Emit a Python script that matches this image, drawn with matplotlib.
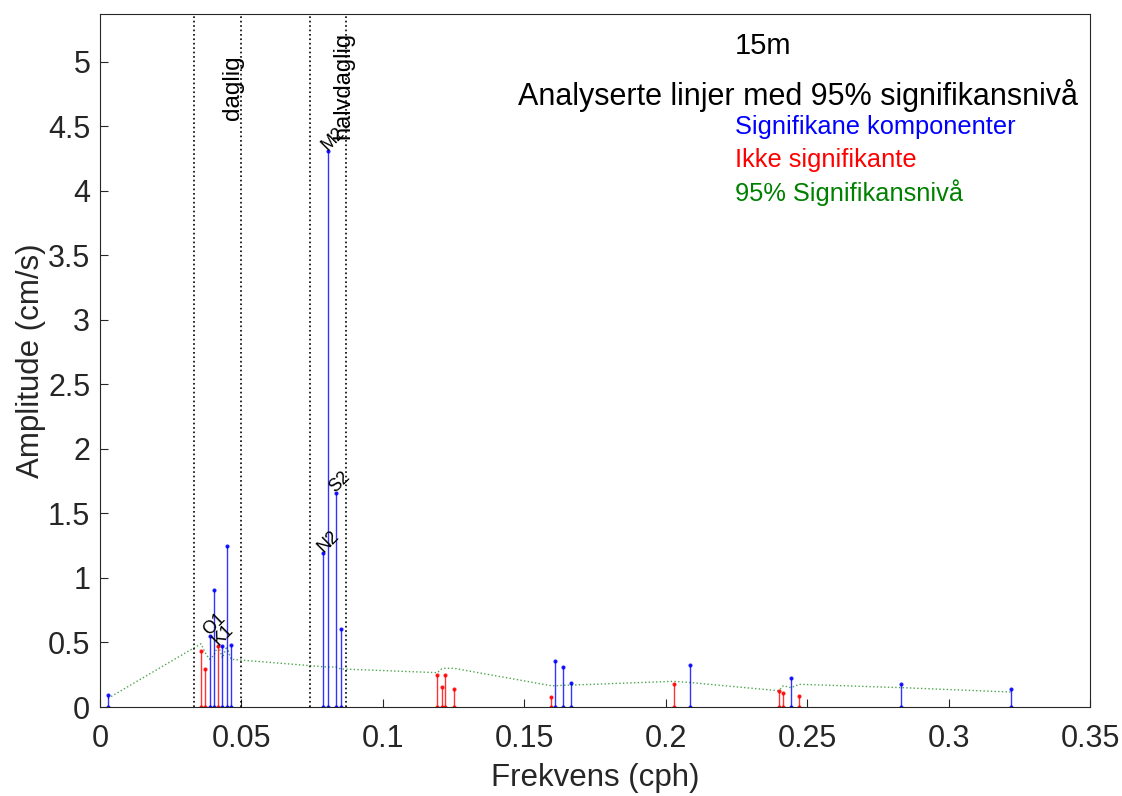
import numpy as np
import matplotlib
matplotlib.use("Agg")
import matplotlib.pyplot as plt

plt.rcParams['font.family'] = ['Liberation Sans', 'DejaVu Sans']

# tidal constituents (frequency in cph, amplitude in cm/s, 95% significance level)
names = ['MSF', '2Q1', 'Q1', 'O1', 'NO1', 'K1', 'J1', 'OO1', 'UPS1',
         'N2', 'M2', 'S2', 'ETA2', 'MO3', 'M3', 'SO3', 'SK3',
         'MN4', 'M4', 'MS4', 'S4', '2MK5', '2SK5',
         '2MN6', 'M6', '2MS6', '2SM6', '3MK7', 'M8']
freq = [0.00282, 0.03571, 0.03722, 0.03873, 0.04027, 0.04178, 0.04329, 0.04483, 0.04634,
        0.07900, 0.08051, 0.08333, 0.08507, 0.11924, 0.12077, 0.12206, 0.12511,
        0.15951, 0.16102, 0.16384, 0.16667, 0.20280, 0.20844,
        0.24002, 0.24153, 0.24436, 0.24718, 0.28331, 0.32205]
amp = [0.095, 0.434, 0.292, 0.553, 0.907, 0.470, 0.470, 1.248, 0.478,
       1.196, 4.305, 1.656, 0.602, 0.246, 0.153, 0.246, 0.142,
       0.075, 0.354, 0.310, 0.188, 0.176, 0.323,
       0.122, 0.108, 0.222, 0.088, 0.176, 0.137]
signif = [1, 0, 0, 1, 1, 0, 1, 1, 1,
          1, 1, 1, 1, 0, 0, 0, 0,
          0, 1, 1, 1, 0, 1,
          0, 0, 1, 0, 1, 1]
sig_level = [0.067, 0.49, 0.42, 0.37, 0.40, 0.48, 0.38, 0.47, 0.37,
             0.312, 0.31, 0.31, 0.295, 0.266, 0.295, 0.30, 0.30,
             0.165, 0.165, 0.168, 0.17, 0.199, 0.19,
             0.126, 0.165, 0.150, 0.176, 0.150, 0.116]
labelled = ['O1', 'K1', 'N2', 'M2', 'S2']

fig = plt.figure(figsize=(11.22, 7.96), dpi=100)
ax = fig.add_axes([0.0891, 0.1118, 0.8824, 0.8706])

# band limits
for xb in [1/30, 1/20, 1/13.5, 1/11.5]:
    ax.axvline(xb, color='k', linestyle=':', linewidth=1.2)

ax.plot(freq, sig_level, ':', color=(0, 0.5, 0), linewidth=1.0, alpha=0.7)

for f, a, s in zip(freq, amp, signif):
    c = 'b' if s else 'r'
    ax.plot([f, f], [0, a], '.-', color=c, markersize=4, linewidth=1.0, alpha=0.8)

for n, f, a in zip(names, freq, amp):
    if n in labelled:
        ax.text(f, a, n, rotation=45, rotation_mode='anchor', ha='left', va='baseline',
                fontsize=13)

ax.text(0.0469, 4.55, 'daglig', rotation=90, ha='center', va='bottom', fontsize=17.5)
ax.text(0.0861, 4.40, 'halvdaglig', rotation=90, ha='center', va='bottom', fontsize=17)

ax.text(0.670, 0.954, '15m', transform=ax.transAxes, ha='center', va='center', fontsize=21)
ax.text(0.422, 0.883, 'Analyserte linjer med 95% signifikansnivå', transform=ax.transAxes,
        ha='left', va='center', fontsize=22)
ax.text(0.641, 0.837, 'Signifikane komponenter', transform=ax.transAxes, color='b',
        ha='left', va='center', fontsize=18.3)
ax.text(0.641, 0.789, 'Ikke signifikante', transform=ax.transAxes, color='r',
        ha='left', va='center', fontsize=18.3)
ax.text(0.641, 0.742, '95% Signifikansnivå', transform=ax.transAxes, color=(0, 0.5, 0),
        ha='left', va='center', fontsize=18.3)

ax.set_xlim(0, 0.35)
ax.set_ylim(0, 5.37)
ax.set_xticks(np.arange(0, 0.351, 0.05))
ax.set_xticklabels(['0', '0.05', '0.1', '0.15', '0.2', '0.25', '0.3', '0.35'])
ax.set_yticks(np.arange(0, 5.01, 0.5))
ax.set_yticklabels(['0', '0.5', '1', '1.5', '2', '2.5', '3', '3.5', '4', '4.5', '5'])
ax.tick_params(direction='in', length=6, labelsize=22, colors='0.15', top=False, right=False)
ax.tick_params(axis='x', pad=12)
ax.tick_params(axis='y', pad=7)
for sp in ax.spines.values():
    sp.set_color('0.15')
    sp.set_linewidth(0.8)
ax.set_xlabel('Frekvens (cph)', fontsize=22.5, color='0.15', labelpad=7)
ax.set_ylabel('Amplitude (cm/s)', fontsize=22.5, color='0.15', labelpad=1)

fig.savefig('out.png', dpi=100)
